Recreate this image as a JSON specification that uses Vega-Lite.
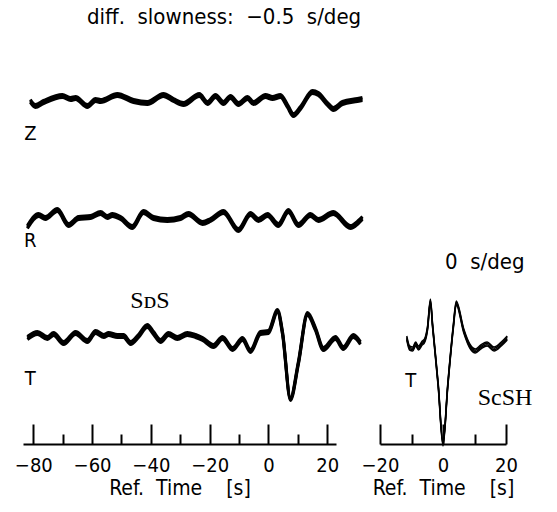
{
  "$schema": "https://vega.github.io/schema/vega-lite/v6.json",
  "padding": {"left": 14, "top": 6, "right": 0, "bottom": 0},
  "background": "white",
  "config": {
    "view": {"stroke": null},
    "font": "DejaVu Sans Condensed, DejaVu Sans, sans-serif",
    "axis": {
      "domainColor": "black", "domainWidth": 2, "tickColor": "black", "tickWidth": 2,
      "labelColor": "black", "labelFontSize": 20, "labelPadding": 31, "labelFlush": false,
      "labelOverlap": false, "grid": false,
      "titleColor": "black", "titleFontSize": 21, "titleFontWeight": "normal", "titlePadding": -8
    },
    "title": {"color": "black", "fontWeight": "normal", "fontSize": 22, "anchor": "start"}
  },
  "datasets": {
    "z": [
      {"t": -81.0, "a": 0}, {"t": -79.3, "a": -5}, {"t": -76.5, "a": -1}, {"t": -70.1, "a": 5},
      {"t": -67.3, "a": 2}, {"t": -65.6, "a": 3}, {"t": -61.6, "a": -5}, {"t": -58.8, "a": 1},
      {"t": -57.1, "a": 0}, {"t": -51.4, "a": 6}, {"t": -45.9, "a": 0}, {"t": -41.2, "a": -2},
      {"t": -35.7, "a": 6}, {"t": -32.3, "a": 1}, {"t": -28.9, "a": -3}, {"t": -23.5, "a": 6},
      {"t": -20.7, "a": -2}, {"t": -18.0, "a": 5}, {"t": -15.3, "a": -2}, {"t": -12.9, "a": 4},
      {"t": -10.2, "a": -3}, {"t": -7.1, "a": 3}, {"t": -5.1, "a": -2}, {"t": -1.0, "a": 5},
      {"t": 1.4, "a": 3}, {"t": 4.1, "a": 5}, {"t": 6.5, "a": -5}, {"t": 8.5, "a": -14},
      {"t": 10.9, "a": -7}, {"t": 15.0, "a": 9}, {"t": 17.0, "a": 7}, {"t": 20.1, "a": -3},
      {"t": 22.1, "a": -8}, {"t": 25.2, "a": -2}, {"t": 30.3, "a": 1}, {"t": 32.0, "a": 2}
    ],
    "r": [
      {"t": -82.0, "a": -8}, {"t": -78.2, "a": 4}, {"t": -75.9, "a": 1}, {"t": -71.8, "a": 9},
      {"t": -68.0, "a": -6}, {"t": -64.6, "a": 1}, {"t": -60.5, "a": 2}, {"t": -57.1, "a": 6},
      {"t": -54.8, "a": 2}, {"t": -53.1, "a": 4}, {"t": -50.3, "a": 1}, {"t": -46.3, "a": -8},
      {"t": -42.5, "a": 7}, {"t": -39.1, "a": 1}, {"t": -34.4, "a": -1}, {"t": -29.9, "a": 1},
      {"t": -27.2, "a": 5}, {"t": -22.4, "a": -4}, {"t": -19.7, "a": -1}, {"t": -15.3, "a": 7},
      {"t": -10.2, "a": -11}, {"t": -6.1, "a": 5}, {"t": -3.4, "a": -1}, {"t": -0.3, "a": 4},
      {"t": 3.4, "a": -6}, {"t": 6.8, "a": 8}, {"t": 10.2, "a": -6}, {"t": 14.3, "a": 4},
      {"t": 17.0, "a": -1}, {"t": 22.1, "a": 6}, {"t": 27.9, "a": -8}, {"t": 30.6, "a": -3},
      {"t": 32.0, "a": 1}
    ],
    "tl": [
      {"t": -82.0, "a": 1}, {"t": -78.6, "a": 6}, {"t": -75.2, "a": 1}, {"t": -73.1, "a": 5},
      {"t": -69.7, "a": -4}, {"t": -65.6, "a": 6}, {"t": -61.6, "a": -2}, {"t": -58.8, "a": 7},
      {"t": -56.0, "a": 3}, {"t": -54.4, "a": 5}, {"t": -51.4, "a": 3}, {"t": -49.3, "a": 3},
      {"t": -46.9, "a": -4}, {"t": -44.2, "a": 3}, {"t": -41.2, "a": 13}, {"t": -39.1, "a": 6},
      {"t": -36.7, "a": -2}, {"t": -34.0, "a": 5}, {"t": -31.0, "a": 1}, {"t": -27.6, "a": 5},
      {"t": -24.8, "a": 3}, {"t": -22.4, "a": 0}, {"t": -18.7, "a": -7}, {"t": -15.6, "a": 1},
      {"t": -12.2, "a": -10}, {"t": -8.8, "a": 0}, {"t": -6.1, "a": -12}, {"t": -2.7, "a": 6},
      {"t": 0.0, "a": 7}, {"t": 3.1, "a": 28}, {"t": 4.8, "a": 6}, {"t": 7.5, "a": -60},
      {"t": 10.2, "a": -24}, {"t": 13.3, "a": 25}, {"t": 16.0, "a": 10}, {"t": 18.7, "a": -10},
      {"t": 22.8, "a": 1}, {"t": 25.5, "a": -9}, {"t": 28.9, "a": 3}, {"t": 31.3, "a": -4}
    ],
    "tr": [
      {"t": -11.5, "a": 3}, {"t": -10.6, "a": -7}, {"t": -9.6, "a": -8}, {"t": -8.7, "a": -3},
      {"t": -7.8, "a": -7}, {"t": -6.6, "a": -2}, {"t": -5.9, "a": 0}, {"t": -4.9, "a": 13},
      {"t": -4.0, "a": 40}, {"t": -3.3, "a": 15}, {"t": -1.5, "a": -45}, {"t": 0.0, "a": -103},
      {"t": 1.5, "a": -45}, {"t": 3.3, "a": 15}, {"t": 4.2, "a": 38}, {"t": 6.6, "a": 10},
      {"t": 8.5, "a": -5}, {"t": 10.3, "a": -10}, {"t": 12.0, "a": -6}, {"t": 14.0, "a": -3},
      {"t": 16.2, "a": -8}, {"t": 18.5, "a": -3}, {"t": 20.4, "a": 3}
    ]
  },
  "spacing": 0,
  "bounds": "flush",
  "vconcat": [
    {
      "width": 313, "height": 120,
      "title": {"text": "diff.\u00a0 slowness:\u00a0 −0.5\u00a0 s/deg", "dx": 64, "offset": 12},
      "encoding": {
        "x": {"field": "t", "type": "quantitative", "scale": {"domain": [-83.5, 23], "nice": false, "zero": false}, "axis": null},
        "y": {"field": "a", "type": "quantitative", "scale": {"domain": [-60, 60], "nice": false, "zero": false}, "axis": null}
      },
      "layer": [
        {"data": {"name": "z"}, "mark": {"type": "line", "color": "black", "strokeWidth": 3, "interpolate": "monotone", "yOffset": -1.5}},
        {"data": {"name": "z"}, "mark": {"type": "line", "color": "black", "strokeWidth": 3, "interpolate": "monotone", "yOffset": 0}},
        {"data": {"name": "z"}, "mark": {"type": "line", "color": "black", "strokeWidth": 3, "interpolate": "monotone", "yOffset": 1.5}},
        {"data": {"values": [{"t": -81, "a": -33, "label": "Z"}]}, "mark": {"type": "text", "fontSize": 20, "color": "black"}, "encoding": {"text": {"field": "label"}}}
      ]
    },
    {
      "width": 313, "height": 115,
      "encoding": {
        "x": {"field": "t", "type": "quantitative", "scale": {"domain": [-83.5, 23], "nice": false, "zero": false}, "axis": null},
        "y": {"field": "a", "type": "quantitative", "scale": {"domain": [-57, 58], "nice": false, "zero": false}, "axis": null}
      },
      "layer": [
        {"data": {"name": "r"}, "mark": {"type": "line", "color": "black", "strokeWidth": 3, "interpolate": "monotone", "yOffset": -1.5}},
        {"data": {"name": "r"}, "mark": {"type": "line", "color": "black", "strokeWidth": 3, "interpolate": "monotone", "yOffset": 0}},
        {"data": {"name": "r"}, "mark": {"type": "line", "color": "black", "strokeWidth": 3, "interpolate": "monotone", "yOffset": 1.5}},
        {"data": {"values": [{"t": -81, "a": -22, "label": "R"}]}, "mark": {"type": "text", "fontSize": 20, "color": "black"}, "encoding": {"text": {"field": "label"}}}
      ]
    },
    {
      "hconcat": [
        {
          "width": 313, "height": 168,
          "encoding": {
            "x": {"field": "t", "type": "quantitative", "title": "Ref.\u00a0 Time\u00a0\u00a0\u00a0 [s]",
              "scale": {"domain": [-83.5, 23], "nice": false, "zero": false},
              "axis": {"values": [-80, -70, -60, -50, -40, -30, -20, -10, 0, 10, 20],
                "labelExpr": "datum.value % 20 === 0 ? datum.label : ''",
                "tickSize": {"condition": {"test": "datum.value % 20 === 0", "value": -20}, "value": -10}}},
            "y": {"field": "a", "type": "quantitative", "scale": {"domain": [-105, 63], "nice": false, "zero": false}, "axis": null}
          },
          "layer": [
            {"data": {"name": "tl"}, "mark": {"type": "line", "color": "black", "strokeWidth": 3, "interpolate": "monotone", "yOffset": -1.5}},
            {"data": {"name": "tl"}, "mark": {"type": "line", "color": "black", "strokeWidth": 3, "interpolate": "monotone", "yOffset": 0}},
            {"data": {"name": "tl"}, "mark": {"type": "line", "color": "black", "strokeWidth": 3, "interpolate": "monotone", "yOffset": 1.5}},
            {"data": {"values": [{"t": -81, "a": -40, "label": "T"}]}, "mark": {"type": "text", "fontSize": 20, "color": "black"}, "encoding": {"text": {"field": "label"}}},
            {"data": {"values": [{"t": -40.3, "a": 38, "label": "SᴅS"}]}, "mark": {"type": "text", "fontSize": 24, "color": "black", "font": "Liberation Serif, DejaVu Serif, serif"}, "encoding": {"text": {"field": "label"}}}
          ]
        },
        {
          "width": 126, "height": 168,
          "title": {"text": "0\u00a0 s/deg", "fontSize": 22, "dx": 84, "offset": 2},
          "encoding": {
            "x": {"field": "t", "type": "quantitative", "title": "Ref.\u00a0 Time\u00a0\u00a0\u00a0 [s]",
              "scale": {"domain": [-20, 20], "nice": false, "zero": false},
              "axis": {"values": [-20, -10, 0, 10, 20],
                "labelExpr": "datum.value % 20 === 0 ? datum.label : ''",
                "tickSize": {"condition": {"test": "datum.value % 20 === 0", "value": -20}, "value": -10}}},
            "y": {"field": "a", "type": "quantitative", "scale": {"domain": [-103, 65], "nice": false, "zero": false}, "axis": null}
          },
          "layer": [
            {"data": {"name": "tr"}, "mark": {"type": "line", "color": "black", "strokeWidth": 1.5, "interpolate": "monotone", "yOffset": -2}},
            {"data": {"name": "tr"}, "mark": {"type": "line", "color": "black", "strokeWidth": 1.5, "interpolate": "monotone", "yOffset": -0.7}},
            {"data": {"name": "tr"}, "mark": {"type": "line", "color": "black", "strokeWidth": 1.5, "interpolate": "monotone", "yOffset": 0.7}},
            {"data": {"name": "tr"}, "mark": {"type": "line", "color": "black", "strokeWidth": 1.5, "interpolate": "monotone", "yOffset": 2}},
            {"data": {"values": [{"t": -10.2, "a": -40, "label": "T"}]}, "mark": {"type": "text", "fontSize": 20, "color": "black"}, "encoding": {"text": {"field": "label"}}},
            {"data": {"values": [{"t": 19.7, "a": -57, "label": "ScSH"}]}, "mark": {"type": "text", "fontSize": 24, "color": "black", "font": "Liberation Serif, DejaVu Serif, serif"}, "encoding": {"text": {"field": "label"}}}
          ]
        }
      ],
      "spacing": 44,
      "bounds": "flush"
    }
  ]
}
